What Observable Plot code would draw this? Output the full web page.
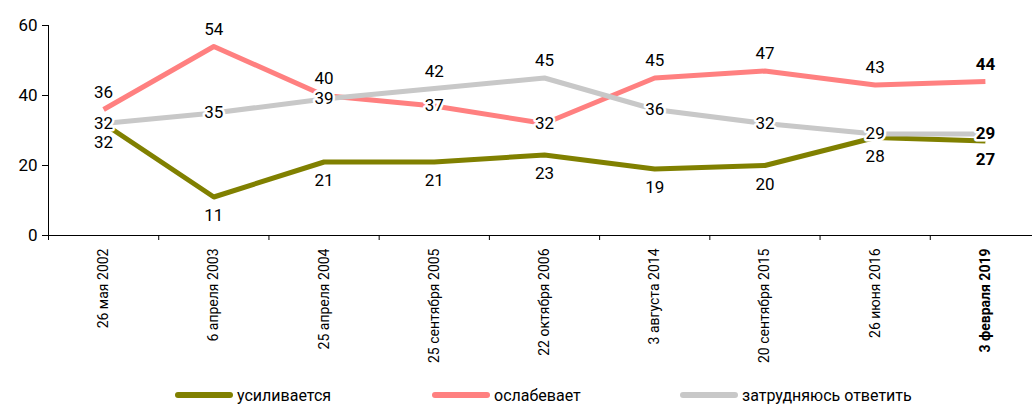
<!DOCTYPE html>
<html><head><meta charset="utf-8">
<script src="https://cdn.jsdelivr.net/npm/d3@7"></script>
<script src="https://cdn.jsdelivr.net/npm/@observablehq/plot@0.6"></script>
<style>
html,body{margin:0;padding:0;background:#fff;width:1032px;height:407px;overflow:hidden;position:relative;}
#legend{position:absolute;top:383px;left:0;width:1032px;height:24px;font-family:"Roboto",sans-serif;font-size:16px;color:#000;}
.item{position:absolute;top:0;display:flex;align-items:center;height:24px;}
.sw{width:58px;height:6px;border-radius:3px;margin-right:4px;}
</style></head>
<body><div id="chart"></div><div id="legend"></div>
<script>
const dates = ["26 мая 2002","6 апреля 2003","25 апреля 2004","25 сентября 2005","22 октября 2006","3 августа 2014","20 сентября 2015","26 июня 2016","3 февраля 2019"];
const strengthening = [32,11,21,21,23,19,20,28,27];
const weakening = [36,54,40,37,32,45,47,43,44];
const undecided = [32,35,39,42,45,36,32,29,29];
const seriesNames = ["усиливается","ослабевает","затрудняюсь ответить"];
const seriesColors = ["#808000","#ff8080","#c8c8c8"];
const yTicks = [0, 20, 40, 60];

const seriesValues = [strengthening, weakening, undecided];
const rows = [];
seriesValues.forEach((vals, s) => vals.forEach((v, i) => rows.push({i, s, series: seriesNames[s], value: v})));
// label placement: highest above, middle on line, lowest below
d3.range(dates.length).forEach(i => {
  const at = rows.filter(r => r.i === i).sort((a, b) => a.value - b.value || a.s - b.s);
  at[0].pos = "below"; at[1].pos = "on"; at[2].pos = "above";
});
const last = dates.length - 1;
const font = "Roboto, 'Noto Sans', sans-serif";

const labelMarks = [];
for (const bold of [false, true]) {
  const sel = r => (r.i === last) === bold;
  const common = {x: "i", y: "value", text: d => String(d.value), fontSize: 17, fill: "#000", fontWeight: bold ? "bold" : "normal"};
  labelMarks.push(Plot.text(rows.filter(r => sel(r) && r.pos === "above"), {...common, dy: -17}));
  labelMarks.push(Plot.text(rows.filter(r => sel(r) && r.pos === "below"), {...common, dy: 19}));
  labelMarks.push(Plot.text(rows.filter(r => sel(r) && r.pos === "on"), {...common, dy: 0, stroke: "#fff", strokeWidth: 5}));
}

const chart = Plot.plot({
  width: 1032, height: 370,
  marginLeft: 48, marginRight: 0, marginTop: 25, marginBottom: 135,
  style: {fontFamily: font, overflow: "visible", background: "#fff"},
  x: {domain: [-0.5, dates.length - 0.5], range: [48, 1040], axis: null},
  y: {domain: [0, 60], axis: null},
  color: {domain: seriesNames, range: seriesColors},
  marks: [
    Plot.axisY({ticks: yTicks, label: null, tickSize: 6, tickPadding: 5, fontSize: 17, stroke: "#000", fill: "#000"}),
    Plot.axisX({ticks: d3.range(-0.5, dates.length), label: null, tickFormat: () => "", tickSize: 5, stroke: "#000"}),
    Plot.ruleX([-0.5], {stroke: "#000"}),
    Plot.ruleY([0], {stroke: "#000"}),
    Plot.line(rows, {x: "i", y: "value", z: "series", stroke: "series", strokeWidth: 5, strokeLinejoin: "round", strokeLinecap: "butt"}),
    ...labelMarks,
    Plot.text(d3.range(last), {x: d => d, frameAnchor: "bottom", text: d => dates[d], rotate: -90, textAnchor: "end", lineAnchor: "middle", dy: 13, fontSize: 14, fill: "#000"}),
    Plot.text([last], {x: d => d, frameAnchor: "bottom", text: d => dates[d], rotate: -90, textAnchor: "end", lineAnchor: "middle", dy: 13, fontSize: 14, fontWeight: "bold", fill: "#000"})
  ]
});
document.getElementById("chart").appendChild(chart);

const legendLeft = [175, 432, 680];
const legend = document.getElementById("legend");
seriesNames.forEach((n, k) => {
  const it = document.createElement("div");
  it.className = "item"; it.style.left = legendLeft[k] + "px";
  it.innerHTML = `<div class="sw" style="background:${seriesColors[k]}"></div><span>${n}</span>`;
  legend.appendChild(it);
});
</script></body></html>
